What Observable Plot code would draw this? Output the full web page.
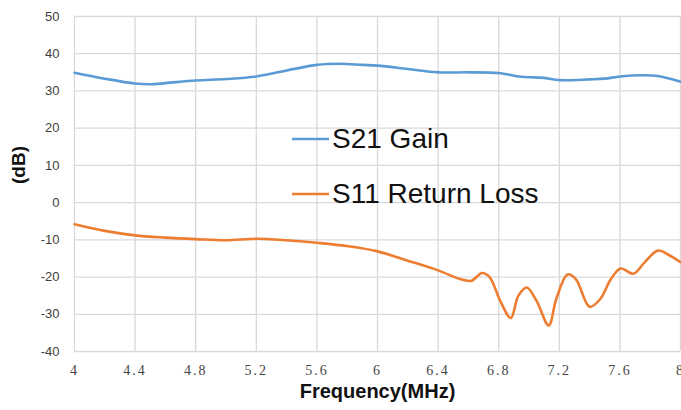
<!DOCTYPE html>
<html><head><meta charset="utf-8">
<script src="https://cdn.jsdelivr.net/npm/d3@7"></script>
<script src="https://cdn.jsdelivr.net/npm/@observablehq/plot@0.6"></script>
<style>body{margin:0;background:#fff;overflow:hidden} #chart svg{display:block}</style>
</head><body><div id="chart"></div>
<script>
const s21Freq = [4.0,4.2,4.4,4.5,4.6,4.8,5.0,5.2,5.4,5.6,5.75,5.9,6.0,6.2,6.4,6.6,6.8,6.95,7.1,7.2,7.4,7.5,7.6,7.75,7.85,8.0];
const s21Gain = [34.9,33.3,32.0,31.8,32.1,32.8,33.2,33.9,35.5,37.0,37.3,37.0,36.8,35.9,35.0,35.0,34.8,33.8,33.5,32.9,33.1,33.3,33.9,34.2,34.0,32.5];
const s11Freq = [4.0,4.2,4.4,4.6,4.8,5.0,5.2,5.4,5.6,5.8,6.0,6.2,6.4,6.55,6.62,6.69,6.74,6.81,6.88,6.93,6.985,7.05,7.13,7.18,7.255,7.31,7.4,7.47,7.54,7.605,7.69,7.76,7.85,7.92,8.0];
const s11Loss = [-5.8,-7.6,-8.8,-9.4,-9.8,-10.1,-9.7,-10.1,-10.8,-11.7,-13.1,-15.6,-18.2,-20.6,-21.0,-18.9,-20.0,-26.4,-31.0,-25.0,-22.8,-26.4,-33.0,-25.9,-19.3,-20.6,-28.0,-25.9,-20.6,-17.7,-19.1,-16.2,-12.9,-14.0,-16.0];
const xTicks = [4,4.4,4.8,5.2,5.6,6,6.4,6.8,7.2,7.6,8];
const yTicks = [-40,-30,-20,-10,0,10,20,30,40,50];
const seriesNames = ["S21 Gain","S11 Return Loss"];
const seriesColors = ["#5B9BD5","#ED7D31"];
const xLabel = "Frequency(MHz)";
const yLabel = "(dB)";

const s21 = s21Freq.map((f,i)=>({f, v:s21Gain[i]}));
const s11 = s11Freq.map((f,i)=>({f, v:s11Loss[i]}));

const chart = Plot.plot({
  width: 681, height: 410,
  marginTop: 16, marginRight: 1, marginBottom: 59, marginLeft: 74,
  x: {domain: [4,8]},
  y: {domain: [-40,50]},
  marks: [
    Plot.gridX(xTicks, {stroke:"#d9d9d9", strokeOpacity:1, strokeWidth:1.3}),
    Plot.gridY(yTicks, {stroke:"#d9d9d9", strokeOpacity:1, strokeWidth:1.3}),
    Plot.axisX(xTicks, {tickSize:0, tickPadding:14, tickFormat:d=>String(d), label:null,
      fontFamily:"Liberation Serif", fontSize:14, fill:"#444"}),
    Plot.axisY(yTicks, {tickSize:0, tickPadding:15, tickFormat:d=>String(d), label:null,
      fontFamily:"Liberation Sans", fontSize:13, fill:"#404040"}),
    Plot.line(s21, {x:"f", y:"v", stroke:seriesColors[0], strokeWidth:2.6, curve:"catmull-rom"}),
    Plot.line(s11, {x:"f", y:"v", stroke:seriesColors[1], strokeWidth:2.6, curve:"catmull-rom"}),
    Plot.text([xLabel], {frameAnchor:"bottom", dy:46, text:d=>d, fontFamily:"Liberation Sans", fontWeight:"bold", fontSize:20, fill:"#111"}),
    Plot.text([yLabel], {frameAnchor:"left", dx:-56, rotate:-90, text:d=>d, fontFamily:"Liberation Sans", fontWeight:"bold", fontSize:19, fill:"#111"})
  ]
});
document.getElementById("chart").appendChild(chart);
const svg = d3.select(chart);
svg.selectAll("g[aria-label='x-axis tick label'] text").style("letter-spacing","2px");
// legend
const leg = svg.append("g").attr("class","legend").attr("text-anchor","start");
const legY = [139, 194];
seriesNames.forEach((n,i)=>{
  leg.append("line").attr("x1",292).attr("x2",329).attr("y1",legY[i]).attr("y2",legY[i])
    .attr("stroke",seriesColors[i]).attr("stroke-width",2.6);
  leg.append("text").attr("x",332).attr("y",legY[i]+9).attr("text-anchor","start").text(n)
    .attr("font-family","Liberation Sans").attr("font-size",28).attr("fill","#111");
});
</script>
</body></html>
